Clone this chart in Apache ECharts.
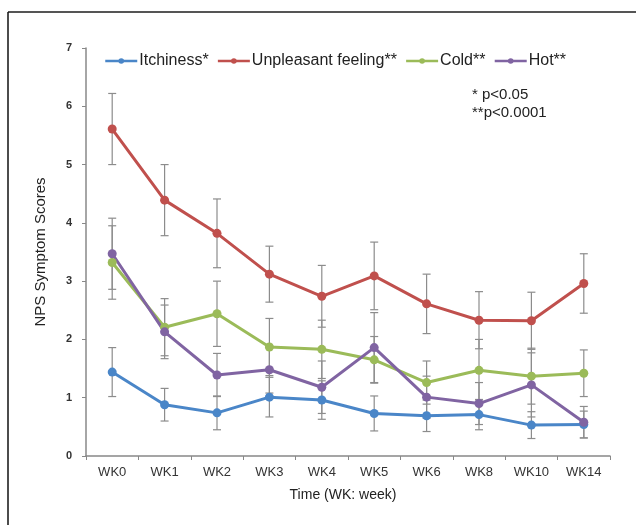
<!DOCTYPE html>
<html>
<head>
<meta charset="utf-8">
<script src="https://cdn.jsdelivr.net/npm/echarts@6/dist/echarts.min.js"></script>
<style>
  html, body { margin: 0; padding: 0; background: #fff; }
  #chart { width: 636px; height: 525px; }
</style>
</head>
<body>
<div id="chart"></div>
<script>
// weeks
let weeks = ['WK0', 'WK1', 'WK2', 'WK3', 'WK4', 'WK5', 'WK6', 'WK8', 'WK10', 'WK14'];

// mean scores
let itchiness = [1.44, 0.88, 0.74, 1.01, 0.96, 0.73, 0.69, 0.71, 0.53, 0.54];
let unpleasant = [5.61, 4.39, 3.82, 3.12, 2.74, 3.09, 2.61, 2.33, 2.32, 2.96];
let cold = [3.32, 2.21, 2.44, 1.87, 1.83, 1.65, 1.26, 1.47, 1.37, 1.42];
let hot = [3.47, 2.13, 1.39, 1.48, 1.18, 1.86, 1.01, 0.90, 1.22, 0.58];

// error (+/-)
let itchinessErr = [0.42, 0.28, 0.29, 0.34, 0.33, 0.30, 0.27, 0.26, 0.23, 0.23];
let unpleasantErr = [0.61, 0.61, 0.59, 0.48, 0.53, 0.58, 0.51, 0.49, 0.49, 0.51];
let coldErr = [0.63, 0.49, 0.56, 0.49, 0.50, 0.40, 0.37, 0.53, 0.48, 0.40];
let hotErr = [0.61, 0.46, 0.37, 0.40, 0.45, 0.60, 0.36, 0.36, 0.55, 0.27];

let yTicks = [0, 1, 2, 3, 4, 5, 6, 7];

let myChart = echarts.init(document.getElementById('chart'));
let font = 'Liberation Sans, Arial, sans-serif';

function lineSeries(name, data, color) {
    return {
        name: name,
        type: 'line',
        data: data,
        symbol: 'circle',
        symbolSize: 9,
        itemStyle: { color: color },
        lineStyle: { color: color, width: 3 },
        z: 3
    };
}

function errSeries(name, data, err) {
    return {
        name: name,
        type: 'custom',
        z: 2,
        silent: true,
        data: data.map(function (v, i) { return [i, v - err[i], v + err[i]]; }),
        renderItem: function (params, api) {
            let lo = api.coord([api.value(0), api.value(1)]);
            let hi = api.coord([api.value(0), api.value(2)]);
            let w = 4;
            let st = { stroke: '#8c8c8c', lineWidth: 1.2 };
            return {
                type: 'group',
                children: [
                    { type: 'line', shape: { x1: hi[0], y1: hi[1], x2: lo[0], y2: lo[1] }, style: st },
                    { type: 'line', shape: { x1: hi[0] - w, y1: hi[1], x2: hi[0] + w, y2: hi[1] }, style: st },
                    { type: 'line', shape: { x1: lo[0] - w, y1: lo[1], x2: lo[0] + w, y2: lo[1] }, style: st }
                ]
            };
        }
    };
}

let option = {
    animation: false,
    backgroundColor: '#fff',
    grid: { left: 86, right: 26, top: 48, bottom: 69 },
    legend: {
        data: ['Itchiness*', 'Unpleasant feeling**', 'Cold**', 'Hot**'],
        left: 99,
        top: 48,
        itemWidth: 32,
        itemHeight: 7,
        itemGap: 8,
        itemStyle: { borderWidth: 0 },
        lineStyle: { width: 2.5 },
        textStyle: { fontFamily: font, fontSize: 16, color: '#222', padding: [0, 0, 0, -3] }
    },
    xAxis: {
        type: 'category',
        data: weeks,
        boundaryGap: true,
        name: 'Time (WK: week)',
        nameLocation: 'middle',
        nameGap: 32,
        nameTextStyle: { fontFamily: font, fontSize: 14, color: '#222', padding: [0, 10, 0, 0] },
        axisLine: { lineStyle: { color: '#888', width: 1.5 } },
        axisTick: { show: true, length: 4, lineStyle: { color: '#888' } },
        axisLabel: { fontFamily: font, fontSize: 13, color: '#333', margin: 10 },
        splitLine: { show: false }
    },
    yAxis: {
        type: 'value',
        min: yTicks[0],
        max: yTicks[yTicks.length - 1],
        interval: 1,
        name: 'NPS Symptom Scores',
        nameLocation: 'middle',
        nameGap: 38,
        nameTextStyle: { fontFamily: font, fontSize: 15, color: '#222' },
        axisLine: { show: true, lineStyle: { color: '#888', width: 1.5 } },
        axisTick: { show: true, length: 4, lineStyle: { color: '#888' } },
        axisLabel: { fontFamily: font, fontSize: 11, fontWeight: 'bold', color: '#333', margin: 14 },
        splitLine: { show: false }
    },
    graphic: [
        { type: 'line', shape: { x1: 8, y1: 12, x2: 636, y2: 12 }, style: { stroke: '#555', lineWidth: 2 } },
        { type: 'line', shape: { x1: 8, y1: 12, x2: 8, y2: 525 }, style: { stroke: '#111', lineWidth: 1.5 } },
        { type: 'text', left: 472, top: 87, style: { text: '* p<0.05', font: '15px ' + font, fill: '#222' } },
        { type: 'text', left: 472, top: 105, style: { text: '**p<0.0001', font: '15px ' + font, fill: '#222' } }
    ],
    series: [
        errSeries('errI', itchiness, itchinessErr),
        errSeries('errU', unpleasant, unpleasantErr),
        errSeries('errC', cold, coldErr),
        errSeries('errH', hot, hotErr),
        lineSeries('Itchiness*', itchiness, '#4a86c8'),
        lineSeries('Unpleasant feeling**', unpleasant, '#c0504d'),
        lineSeries('Cold**', cold, '#9bbb59'),
        lineSeries('Hot**', hot, '#8064a2')
    ]
};

myChart.setOption(option);
</script>
</body>
</html>
